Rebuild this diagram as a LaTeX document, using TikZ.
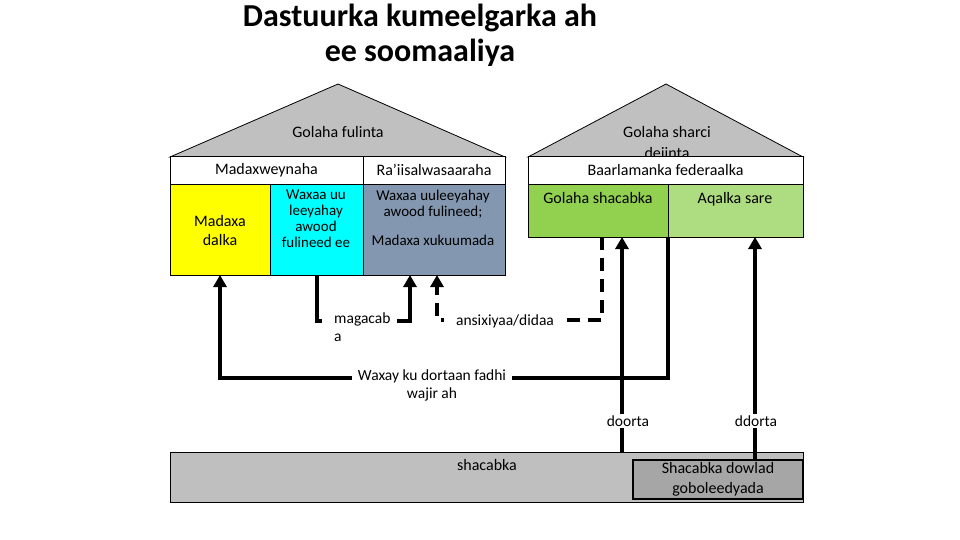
\documentclass[tikz,border=0pt]{standalone}
\usepackage{fontspec}
\setmainfont{Carlito}
\usetikzlibrary{arrows.meta}
\definecolor{roofgray}{HTML}{C0C0C0}
\definecolor{cyanbox}{HTML}{00FFFF}
\definecolor{yellowbox}{HTML}{FFFF00}
\definecolor{slate}{HTML}{8497B0}
\definecolor{dgreen}{HTML}{92D050}
\definecolor{lgreen}{HTML}{AEDC80}
\definecolor{basegray}{HTML}{BFBFBF}
\definecolor{innergray}{HTML}{A6A6A6}
\begin{document}
\begin{tikzpicture}[x=1pt,y=-1pt,
  cell/.style={draw=black, line width=0.8pt, inner sep=0pt, outer sep=0pt, anchor=north west},
  txt/.style={font=\fontsize{16}{19}\selectfont, inner sep=0pt, align=center},
  stxt/.style={font=\fontsize{15}{16}\selectfont, inner sep=0pt, align=center},
  wire/.style={line width=4pt},
  conn/.style={line width=4pt, -{Triangle[width=13pt,length=12pt]}},
  dconn/.style={line width=4pt, dash pattern=on 13pt off 8pt, -{Triangle[width=13pt,length=12pt]}},
  lbl/.style={fill=white, font=\fontsize{15.5}{18}\selectfont, inner ysep=2pt}
]
\useasboundingbox (0,0) rectangle (960,540);

% title
\node[font=\fontsize{32}{35}\selectfont\bfseries, align=center] (title) at (420,35) {Dastuurka kumeelgarka ah\\ee soomaaliya};

% left house
\draw[fill=roofgray, line width=0.8pt] (170,157) -- (338,84) -- (505,157) -- cycle;
\node[txt] (gf) at (338,132) {Golaha fulinta};
\node[cell, fill=white, minimum width=193, minimum height=28] (mw) at (170,156) {};
\node[cell, fill=white, minimum width=142, minimum height=28] (rw) at (363,156) {};
\node[txt] (mwt) at (mw.center) {Madaxweynaha};
\node[txt] (rwt) at (rw.center) {Ra’iisalwasaaraha};
\node[cell, fill=yellowbox, minimum width=100, minimum height=91] (yel) at (170,184) {};
\node[cell, fill=cyanbox, minimum width=93, minimum height=91] (cy) at (270,184) {};
\node[cell, fill=slate, minimum width=142, minimum height=91] (sl) at (363,184) {};
\node[txt, font=\fontsize{16}{19}\selectfont] (yelt) at (220,231) {Madaxa\\dalka};
\node[stxt, anchor=north] (cyt) at (316,190) {Waxaa uu\\leeyahay\\awood\\fulineed ee};
\node[stxt, anchor=north] (slt) at (433,190) {Waxaa uuleeyahay\\awood fulineed;};
\node[stxt] (slt2) at (433,240) {Madaxa xukuumada};

% right house
\draw[fill=roofgray, line width=0.8pt] (528,157) -- (666,84) -- (803,157) -- cycle;
\node[txt, font=\fontsize{16}{21}\selectfont, anchor=north] (gsd) at (667,126.5) {Golaha sharci\\dejinta};
\node[cell, fill=white, minimum width=275, minimum height=28] (bf) at (528,156) {};
\node[txt] (bft) at (bf.center) {Baarlamanka federaalka};
\node[cell, fill=dgreen, minimum width=140, minimum height=53] (gs) at (528,184) {};
\node[cell, fill=lgreen, minimum width=135, minimum height=53] (aq) at (668,184) {};
\node[txt, anchor=base] (gst) at (598,204) {Golaha shacabka};
\node[txt, anchor=base] (aqt) at (735,204) {Aqalka sare};

% bottom
\node[cell, fill=basegray, minimum width=633, minimum height=50] (sh) at (170,452) {};
\node[txt] (sht) at (487,465) {shacabka};
\node[cell, fill=innergray, line width=2.5pt, minimum width=170, minimum height=39] (sd) at (633,460) {};
\node[txt, font=\fontsize{16}{20}\selectfont] (sdt) at (sd.center) {Shacabka dowlad\\goboleedyada};

% connectors
\draw[conn] (gs.south east) |- (yel.south |- 0,378) -- (yel.south);
\node[lbl, align=center, anchor=north, inner xsep=6pt] (wx) at (432,368) {Waxay ku dortaan fadhi\\wajir ah};

\draw[conn] (cy.south) |- (410,321) -- (sl.south -| 410,0);
\node[lbl, align=left, anchor=north west, inner xsep=12pt, text width=51pt] (mg) at (322,311) {magacab\\a};

\draw[dconn] (gs.south -| 602,0) |- (437,320) -- (sl.south -| 437,0);
\node[lbl, inner xsep=12pt] (an) at (505,321) {ansixiyaa/didaa};

\draw[conn] (sh.north -| 622,0) -- (gs.south -| 622,0);
\node[lbl, inner xsep=3pt] (d1) at (628,421) {doorta};

\draw[conn] (sd.north -| 755,0) -- (aq.south -| 755,0);
\node[lbl, inner xsep=3pt] (d2) at (756,421) {ddorta};
\end{tikzpicture}
\end{document}
